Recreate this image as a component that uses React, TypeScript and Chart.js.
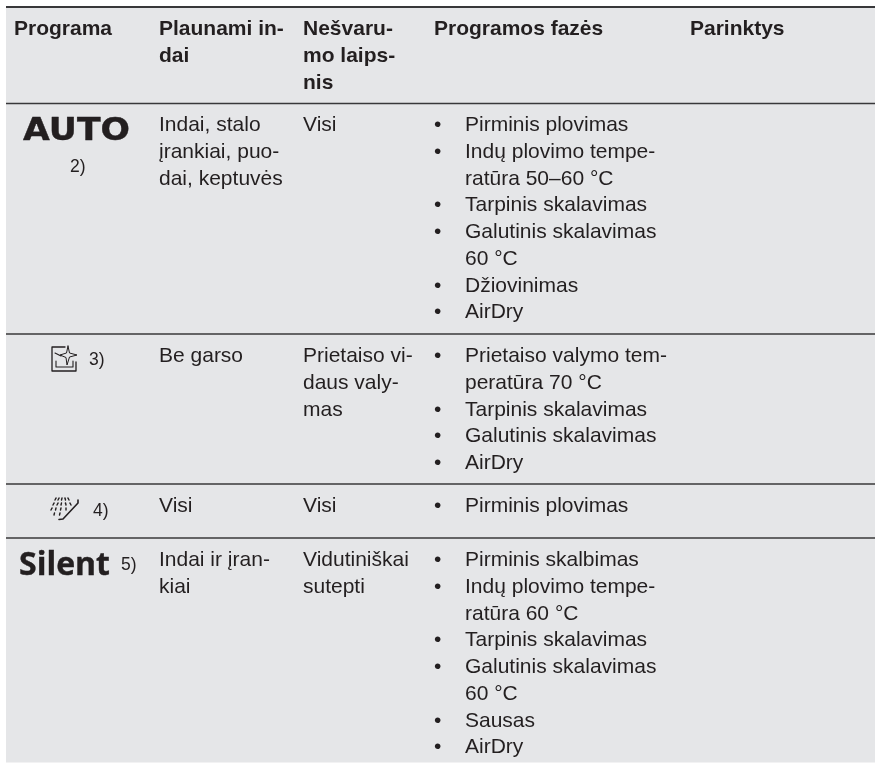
import React, { useEffect, useRef } from "react";
import { Chart, registerables } from "chart.js";

Chart.register(...registerables);

const headerCols = [
  ["Programa"],
  ["Plaunami in-", "dai"],
  ["Nešvaru-", "mo laips-", "nis"],
  ["Programos fazės"],
  ["Parinktys"],
];
const dishes = [
  ["Indai, stalo", "įrankiai, puo-", "dai, keptuvės"],
  ["Be garso"],
  ["Visi"],
  ["Indai ir įran-", "kiai"],
];
const soil = [
  ["Visi"],
  ["Prietaiso vi-", "daus valy-", "mas"],
  ["Visi"],
  ["Vidutiniškai", "sutepti"],
];
// "•" marks the first line of each bulleted phase.
const phases = [
  ["•Pirminis plovimas", "•Indų plovimo tempe-", "ratūra 50–60 °C", "•Tarpinis skalavimas", "•Galutinis skalavimas", "60 °C", "•Džiovinimas", "•AirDry"],
  ["•Prietaiso valymo tem-", "peratūra 70 °C", "•Tarpinis skalavimas", "•Galutinis skalavimas", "•AirDry"],
  ["•Pirminis plovimas"],
  ["•Pirminis skalbimas", "•Indų plovimo tempe-", "ratūra 60 °C", "•Tarpinis skalavimas", "•Galutinis skalavimas", "60 °C", "•Sausas", "•AirDry"],
];
const footnotes = ["2)", "3)", "4)", "5)"];
const logos = ["AUTO", "Silent"];

const ruleRows = [7, 103.5, 334, 484, 538];
const firstBaselines = [131, 362, 512, 566];
const headerBaseline = 35;
const lineStep = 26.75;
const colX = [14, 159, 303, 434, 690];
const phaseTextX = 465;
const tableBand = [6, 762.5];
const tableLeft = 6;
const tableRight = 875;

const TEXT = "#231f20";
const SANS = '"Liberation Sans", Arial, sans-serif';

const tablePlugin = {
  id: "tablePlugin",
  beforeDatasetsDraw(chart: any) {
    const { ctx, scales } = chart;
    const X = (v: number) => scales.x.getPixelForValue(v);
    const Y = (v: number) => scales.y.getPixelForValue(v);
    ctx.save();
    ctx.fillStyle = "#e5e6e8";
    ctx.fillRect(X(tableLeft), Y(tableBand[0]), X(tableRight) - X(tableLeft), Y(tableBand[1]) - Y(tableBand[0]));
    ctx.restore();
  },
  afterDatasetsDraw(chart: any) {
    const { ctx, scales } = chart;
    const X = (v: number) => scales.x.getPixelForValue(v);
    const Y = (v: number) => scales.y.getPixelForValue(v);
    const put = (s: string, x: number, y: number, font: string) => {
      ctx.font = font;
      ctx.fillText(s, X(x), Y(y));
    };
    ctx.save();
    ctx.fillStyle = TEXT;
    ctx.textBaseline = "alphabetic";
    const bold = `bold 21px ${SANS}`;
    const reg = `21px ${SANS}`;

    headerCols.forEach((lines, c) =>
      lines.forEach((s, i) => put(s, colX[c], headerBaseline + i * 27, bold)),
    );
    firstBaselines.forEach((b, r) => {
      dishes[r].forEach((s, i) => put(s, colX[1], b + i * lineStep, reg));
      soil[r].forEach((s, i) => put(s, colX[2], b + i * lineStep, reg));
      phases[r].forEach((s, i) => {
        const y = b + i * lineStep;
        if (s.startsWith("•")) {
          put("•", colX[3], y, reg);
          put(s.slice(1), phaseTextX, y, reg);
        } else {
          put(s, phaseTextX, y, reg);
        }
      });
    });

    // Program logos, drawn a little heavier than the plain bold face.
    ctx.strokeStyle = TEXT;
    ctx.lineJoin = "round";
    ctx.save();
    ctx.translate(X(23), Y(140));
    ctx.scale(1.1, 1);
    ctx.font = `bold 31.5px "DejaVu Sans"`;
    ctx.lineWidth = 0.4;
    ctx.fillText(logos[0], 0, 0);
    ctx.strokeText(logos[0], 0, 0);
    ctx.restore();
    ctx.save();
    ctx.font = `bold 32px "Open Sans"`;
    ctx.lineWidth = 0.4;
    ctx.fillText(logos[1], X(19), Y(575));
    ctx.strokeText(logos[1], X(19), Y(575));
    ctx.restore();

    const small = `17.5px ${SANS}`;
    put(footnotes[0], 70, 172, small);
    put(footnotes[1], 89, 365, small);
    put(footnotes[2], 93, 516, small);
    put(footnotes[3], 121, 570, small);

    // Program symbols
    ctx.lineCap = "round";
    const path = (pts: number[][], w: number) => {
      ctx.lineWidth = w;
      ctx.beginPath();
      pts.forEach(([x, y], i) => (i ? ctx.lineTo(X(x), Y(y)) : ctx.moveTo(X(x), Y(y))));
      ctx.stroke();
    };
    path([[65, 347], [52, 347], [52, 371], [76, 371], [76, 362]], 1.3);
    path([[55, 353], [61, 356]], 1.1);
    path([[56, 361], [56, 367], [73, 367], [73, 361]], 1.1);
    path([[68, 346], [69.5, 353], [77, 355], [69.5, 357], [67, 365], [66, 357.5], [60, 355], [66.5, 353], [68, 346]], 1);

    path([[59, 519.5], [63, 519], [78, 503], [78, 500]], 1.6);
    const dashes = [
      [56, 498, 55, 500], [59, 498, 58, 500], [62, 498, 61.5, 500], [65, 498, 65.5, 500], [68, 498, 69, 500],
      [54, 503, 53, 505], [58, 503, 57, 505], [61.5, 503, 61, 505], [65.5, 503, 66, 505], [70, 503, 71, 505],
      [52, 508, 51, 510], [56, 508, 55.5, 510], [61, 508, 60.5, 510], [66, 508, 66, 510],
      [54.5, 513, 54, 515], [60, 513, 59.5, 515],
    ];
    dashes.forEach(([a, b, c, d]) => path([[a, b], [c, d]], 1.4));
    ctx.restore();
  },
};

export default function App() {
  const ref = useRef<HTMLCanvasElement | null>(null);
  useEffect(() => {
    if (!ref.current) return;
    const chart = new Chart(ref.current, {
      type: "scatter",
      data: {
        datasets: ruleRows.map((y, i) => ({
          data: [{ x: tableLeft, y }, { x: tableRight, y }],
          showLine: true,
          borderColor: "#38383a",
          borderWidth: i === 0 ? 2 : 1.4,
          pointRadius: 0,
        })),
      },
      options: {
        animation: false,
        responsive: false,
        layout: { padding: 0 },
        plugins: { legend: { display: false }, tooltip: { enabled: false } },
        scales: {
          x: { type: "linear", min: 0, max: 875, display: false },
          y: { type: "linear", min: 0, max: 763, reverse: true, display: false },
        },
      },
      plugins: [tablePlugin],
    });
    return () => chart.destroy();
  }, []);
  return (
    <canvas
      ref={ref}
      width={875}
      height={763}
      style={{ position: "fixed", left: 0, top: 0, width: 875, height: 763, display: "block", background: "#fff" }}
    />
  );
}
